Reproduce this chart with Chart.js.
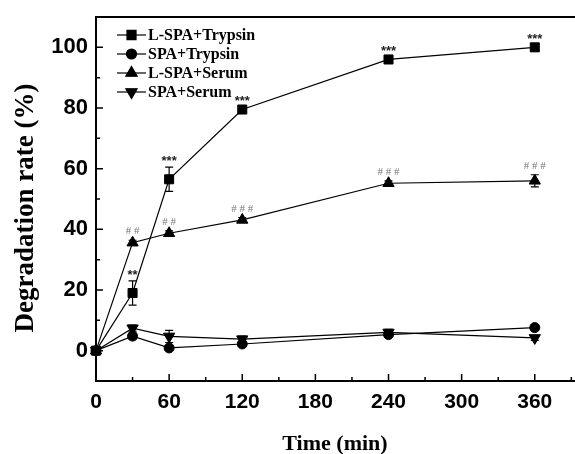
<!DOCTYPE html>
<html>
<head>
<meta charset="utf-8">
<script src="https://cdn.jsdelivr.net/npm/chart.js@4/dist/chart.umd.min.js"></script>
<style>
  html, body { margin: 0; padding: 0; background: #fff; }
  #wrap { width: 575px; height: 454px; }
</style>
</head>
<body>
<div id="wrap"><canvas id="degChart" width="575" height="454"></canvas></div>
<script>
// Sampling times (min)
const times = [0, 30, 60, 120, 240, 360];

// Degradation rate (%) per group
const lspaTrypsin = [0, 19, 56.5, 79.5, 96, 100];
const spaTrypsin = [0, 4.8, 0.9, 2.2, 5.3, 7.6];
const lspaSerum = [0, 35.6, 38.7, 43.1, 55.2, 56];
const spaSerum = [0, 7.4, 4.7, 3.8, 6, 4.2];

// Error bars (+/-)
const lspaTrypsinErr = [0.5, 4, 4, 0.8, 0.8, 0.8];
const spaTrypsinErr = [0.5, 1, 0.5, 0.8, 0.8, 0.8];
const lspaSerumErr = [0.5, 0.8, 0.8, 0.8, 0.8, 2];
const spaSerumErr = [0.5, 1, 2, 1, 1, 0.8];

// Significance marks
const trypsinMarks = ['', '**', '***', '***', '***', '***'];
const serumMarks = ['', '##', '##', '###', '###', '###'];

// Axis ticks
const xMajorTicks = [0, 60, 120, 180, 240, 300, 360];
const yMajorTicks = [0, 20, 40, 60, 80, 100];

const groupNames = ['L-SPA+Trypsin', 'SPA+Trypsin', 'L-SPA+Serum', 'SPA+Serum'];

const toPoints = (vals) => times.map((t, i) => ({ x: t, y: vals[i] }));

function makeSet(label, vals, errs, style, radius, rotation) {
    return {
        label: label,
        data: toPoints(vals),
        errors: errs,
        borderColor: '#000',
        backgroundColor: '#000',
        borderWidth: 1.2,
        pointStyle: style,
        pointRadius: radius,
        pointRotation: rotation,
        pointBorderWidth: 1,
        tension: 0,
        clip: false
    };
}

// error bars + significance text + inward ticks + top frame + legend + axis titles
const decorPlugin = {
    id: 'decor',
    afterDatasetsDraw(chart) {
        const ctx = chart.ctx;
        const xs = chart.scales.x;
        const ys = chart.scales.y;
        ctx.save();
        ctx.strokeStyle = '#000';
        ctx.lineWidth = 1.2;
        chart.data.datasets.forEach((ds) => {
            ds.data.forEach((p, i) => {
                const e = ds.errors[i];
                if (!e) return;
                const px = xs.getPixelForValue(p.x);
                const top = ys.getPixelForValue(p.y + e);
                const bot = ys.getPixelForValue(p.y - e);
                ctx.beginPath();
                ctx.moveTo(px, top); ctx.lineTo(px, bot);
                ctx.moveTo(px - 4, top); ctx.lineTo(px + 4, top);
                ctx.moveTo(px - 4, bot); ctx.lineTo(px + 4, bot);
                ctx.stroke();
            });
        });

        // significance marks
        ctx.textAlign = 'center';
        ctx.textBaseline = 'alphabetic';
        ctx.font = 'bold 13px "Liberation Sans"';
        ctx.fillStyle = '#222';
        trypsinMarks.forEach((m, i) => {
            if (!m) return;
            const px = xs.getPixelForValue(times[i]);
            const py = ys.getPixelForValue(lspaTrypsin[i] + lspaTrypsinErr[i]);
            ctx.fillText(m, px, py - 2);
        });
        ctx.font = '11px "Liberation Serif"';
        ctx.fillStyle = '#777';
        serumMarks.forEach((m, i) => {
            if (!m) return;
            const px = xs.getPixelForValue(times[i]);
            const py = ys.getPixelForValue(lspaSerum[i] + lspaSerumErr[i]);
            ctx.fillText(m.split('').join(' '), px, py - 6);
        });
        ctx.restore();
    },
    afterDraw(chart) {
        const ctx = chart.ctx;
        const area = chart.chartArea;
        const xs = chart.scales.x;
        const ys = chart.scales.y;
        ctx.save();
        ctx.strokeStyle = '#000';
        ctx.lineWidth = 2;
        // top frame line
        ctx.beginPath();
        ctx.moveTo(area.left, area.top);
        ctx.lineTo(area.right, area.top);
        ctx.stroke();

        // inward ticks
        ctx.lineWidth = 1.5;
        ctx.beginPath();
        for (let v = 0; v <= 390; v += 30) {
            const px = xs.getPixelForValue(v);
            const len = xMajorTicks.includes(v) ? 7 : 4;
            ctx.moveTo(px, area.bottom);
            ctx.lineTo(px, area.bottom - len);
        }
        for (let v = -10; v <= 110; v += 10) {
            const py = ys.getPixelForValue(v);
            const len = yMajorTicks.includes(v) ? 7 : 4;
            ctx.moveTo(area.left, py);
            ctx.lineTo(area.left + len, py);
        }
        ctx.stroke();

        // legend
        const lx = 117, lw = 29;
        const rows = [35, 54, 73, 92];
        ctx.font = 'bold 16px "Liberation Serif"';
        ctx.textAlign = 'left';
        ctx.textBaseline = 'middle';
        ctx.fillStyle = '#000';
        chart.data.datasets.forEach((ds, i) => {
            const y = rows[i];
            ctx.lineWidth = 1.2;
            ctx.beginPath();
            ctx.moveTo(lx, y);
            ctx.lineTo(lx + lw, y);
            ctx.stroke();
            Chart.helpers.drawPoint(ctx, {
                pointStyle: ds.pointStyle,
                radius: ds.pointRadius,
                rotation: ds.pointRotation,
                borderWidth: 1
            }, lx + lw / 2, y);
            ctx.fill();
            ctx.fillText(ds.label, lx + lw + 2, y + 1);
        });

        // axis titles
        ctx.textAlign = 'center';
        ctx.textBaseline = 'alphabetic';
        ctx.font = 'bold 22px "Liberation Serif"';
        ctx.fillText('Time (min)', 335, 450);
        ctx.save();
        ctx.translate(33, 208);
        ctx.rotate(-Math.PI / 2);
        ctx.font = 'bold 27px "Liberation Serif"';
        ctx.fillText('Degradation rate (%)', 0, 0);
        ctx.restore();
        ctx.restore();
    }
};

const ctx = document.getElementById('degChart').getContext('2d');

const chart = new Chart(ctx, {
    type: 'line',
    data: {
        datasets: [
            makeSet(groupNames[0], lspaTrypsin, lspaTrypsinErr, 'rect', 6.4, 0),
            makeSet(groupNames[1], spaTrypsin, spaTrypsinErr, 'circle', 5, 0),
            makeSet(groupNames[2], lspaSerum, lspaSerumErr, 'triangle', 6.5, 0),
            makeSet(groupNames[3], spaSerum, spaSerumErr, 'triangle', 6.5, 180)
        ]
    },
    options: {
        responsive: false,
        animation: false,
        layout: { autoPadding: false, padding: { top: 17, right: 0, left: 0, bottom: 0 } },
        plugins: {
            legend: { display: false },
            tooltip: { enabled: false }
        },
        scales: {
            x: {
                type: 'linear',
                min: 0,
                max: 393,
                afterFit: (s) => { s.height = 73; s.paddingLeft = 0; s.paddingRight = 0; },
                grid: { display: false, drawTicks: false },
                border: { display: true, color: '#000', width: 2 },
                ticks: {
                    stepSize: 60,
                    includeBounds: false,
                    padding: 9,
                    color: '#000',
                    font: { family: 'Liberation Sans', size: 21, weight: 'bold' },
                    callback: (v) => xMajorTicks.includes(v) ? String(v) : ''
                }
            },
            y: {
                min: -10,
                max: 110,
                afterFit: (s) => { s.width = 96; s.paddingTop = 0; s.paddingBottom = 0; },
                grid: { display: false, drawTicks: false },
                border: { display: true, color: '#000', width: 2 },
                ticks: {
                    stepSize: 10,
                    padding: 8,
                    color: '#000',
                    font: { family: 'Liberation Sans', size: 22, weight: 'bold' },
                    callback: (v) => yMajorTicks.includes(v) ? String(v) : ''
                }
            }
        }
    },
    plugins: [decorPlugin]
});
</script>
</body>
</html>
